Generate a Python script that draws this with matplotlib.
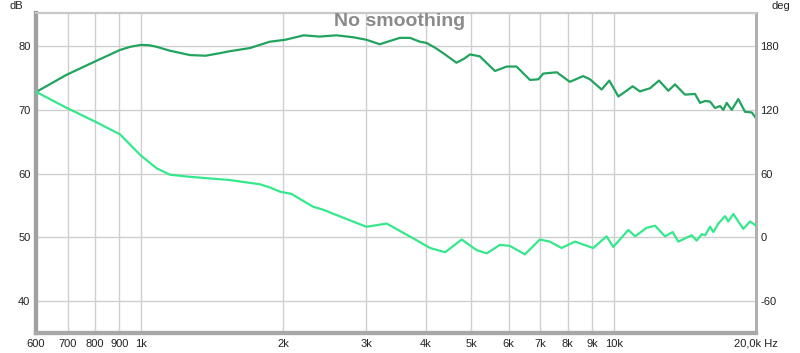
import numpy as np
import matplotlib
matplotlib.use("Agg")
import matplotlib.pyplot as plt

plt.rcParams['font.family'] = ['Liberation Sans', 'DejaVu Sans']
plt.rcParams['axes.unicode_minus'] = False

# =================== data ===================
# upper trace, left axis (dB)
spl_freq = [600, 696, 800, 903, 950, 1000, 1040, 1079, 1150, 1270, 1370, 1470, 1540, 1700,
            1875, 2020, 2210, 2390, 2590, 2810, 3000, 3200, 3360, 3530, 3710, 3890, 4020,
            4180, 4360, 4650, 4820, 4970, 5210, 5610, 5940, 6230, 6650, 6930, 7100, 7580,
            8080, 8620, 8910, 9430, 9790, 10230, 10970, 11360, 11940, 12470, 13050,
            13480, 14150, 14860, 15230, 15610, 15990, 16380, 16790, 17060, 17340, 17770,
            18350, 18960, 19590, 20000]
spl_db = [72.8, 75.5, 77.6, 79.4, 79.9, 80.2, 80.15, 79.9, 79.3, 78.6, 78.5, 78.9, 79.2, 79.7,
          80.7, 81.0, 81.7, 81.5, 81.7, 81.4, 81.0, 80.3, 80.8, 81.3, 81.3, 80.7, 80.5,
          79.8, 78.9, 77.4, 78.0, 78.7, 78.4, 76.1, 76.8, 76.8, 74.7, 74.8, 75.7, 75.9,
          74.4, 75.3, 74.8, 73.2, 74.6, 72.1, 73.7, 72.9, 73.4, 74.6, 73.0,
          74.0, 72.4, 72.5, 71.1, 71.4, 71.3, 70.3, 70.6, 70.0, 71.1, 70.0,
          71.7, 69.7, 69.6, 68.7]

# lower trace, right axis (deg)
ph_freq = [600, 696, 800, 903, 1000, 1080, 1152, 1270, 1540, 1785, 1875, 1970, 2080, 2310,
           2430, 2770, 3000, 3310, 3770, 4090, 4400, 4770, 5130, 5390, 5750, 6030,
           6490, 6980, 7330, 7760, 8280, 9050, 9660, 9980, 10740, 11100, 11740,
           12230, 12840, 13330, 13700, 14620, 14980, 15360, 15610, 15990, 16250,
           16650, 17200, 17480, 17910, 18800, 19430, 20000]
ph_deg = [137, 122, 109, 97, 77, 65, 59, 57, 54, 50, 47, 43, 41, 29,
          26, 16, 10, 13, -1, -10, -14, -2, -12, -15, -7, -8,
          -16, -2, -4, -10, -4, -10, 1, -9, 7, 1, 9,
          11, 1, 5, -4, 2, -3, 3, 2, 10, 5,
          13, 20, 15, 22, 8, 15, 11]

x_ticks = [600, 700, 800, 900, 1000, 2000, 3000, 4000, 5000, 6000, 7000, 8000, 9000, 10000, 20000]
x_labels = ['600', '700', '800', '900', '1k', '2k', '3k', '4k', '5k', '6k', '7k', '8k', '9k', '10k', '20,0k Hz']
db_ticks = [40, 50, 60, 70, 80]
deg_ticks = [-60, 0, 60, 120, 180]

# =================== plot ===================
fig = plt.figure(figsize=(8, 3.53), dpi=100)
ax = fig.add_axes([36 / 800, 1 - 333 / 353, 720 / 800, 320 / 353])
ax2 = ax.twinx()

ax.set_xscale('log')
ax.set_xlim(600, 20000)
ax.set_ylim(35, 85.2)
ax2.set_ylim(6 * 35 - 300, 6 * 85.2 - 300)

ax.set_xticks(x_ticks)
ax.set_xticklabels(x_labels)
ax.xaxis.set_minor_locator(matplotlib.ticker.NullLocator())
ax.set_yticks(db_ticks)
ax2.set_yticks(deg_ticks)

ax.grid(True, color='#cfcfcf', linewidth=1.0)
ax.set_axisbelow(True)

ax.tick_params(length=0, labelsize=8, colors='#222222', pad=4)
ax2.tick_params(length=0, labelsize=8, colors='#222222', pad=3)

ax.plot(spl_freq, spl_db, color='#22a35e', linewidth=1.6, zorder=3, solid_joinstyle='round')
ax2.plot(ph_freq, ph_deg, color='#35e88c', linewidth=1.6, zorder=3, solid_joinstyle='round')

for a in (ax, ax2):
    a.spines['left'].set_color('#a0a0a0')
    a.spines['left'].set_linewidth(3)
    a.spines['bottom'].set_color('#a8a8a8')
    a.spines['bottom'].set_linewidth(3)
    a.spines['top'].set_color('#c8c8c8')
    a.spines['top'].set_linewidth(1.5)
    a.spines['right'].set_color('#b0b0b0')
    a.spines['right'].set_linewidth(2)

fig.text(10 / 800, 1 - 6 / 353, 'dB', fontsize=8, color='#222222', va='center')
fig.text(771 / 800, 1 - 6 / 353, 'deg', fontsize=8, color='#222222', va='center')
fig.text(400 / 800, 1 - 22 / 353, 'No smoothing', fontsize=14, fontweight='bold',
         color='#8a8a8a', ha='center', va='center')

fig.savefig('out.png', dpi=100)
plt.close()
